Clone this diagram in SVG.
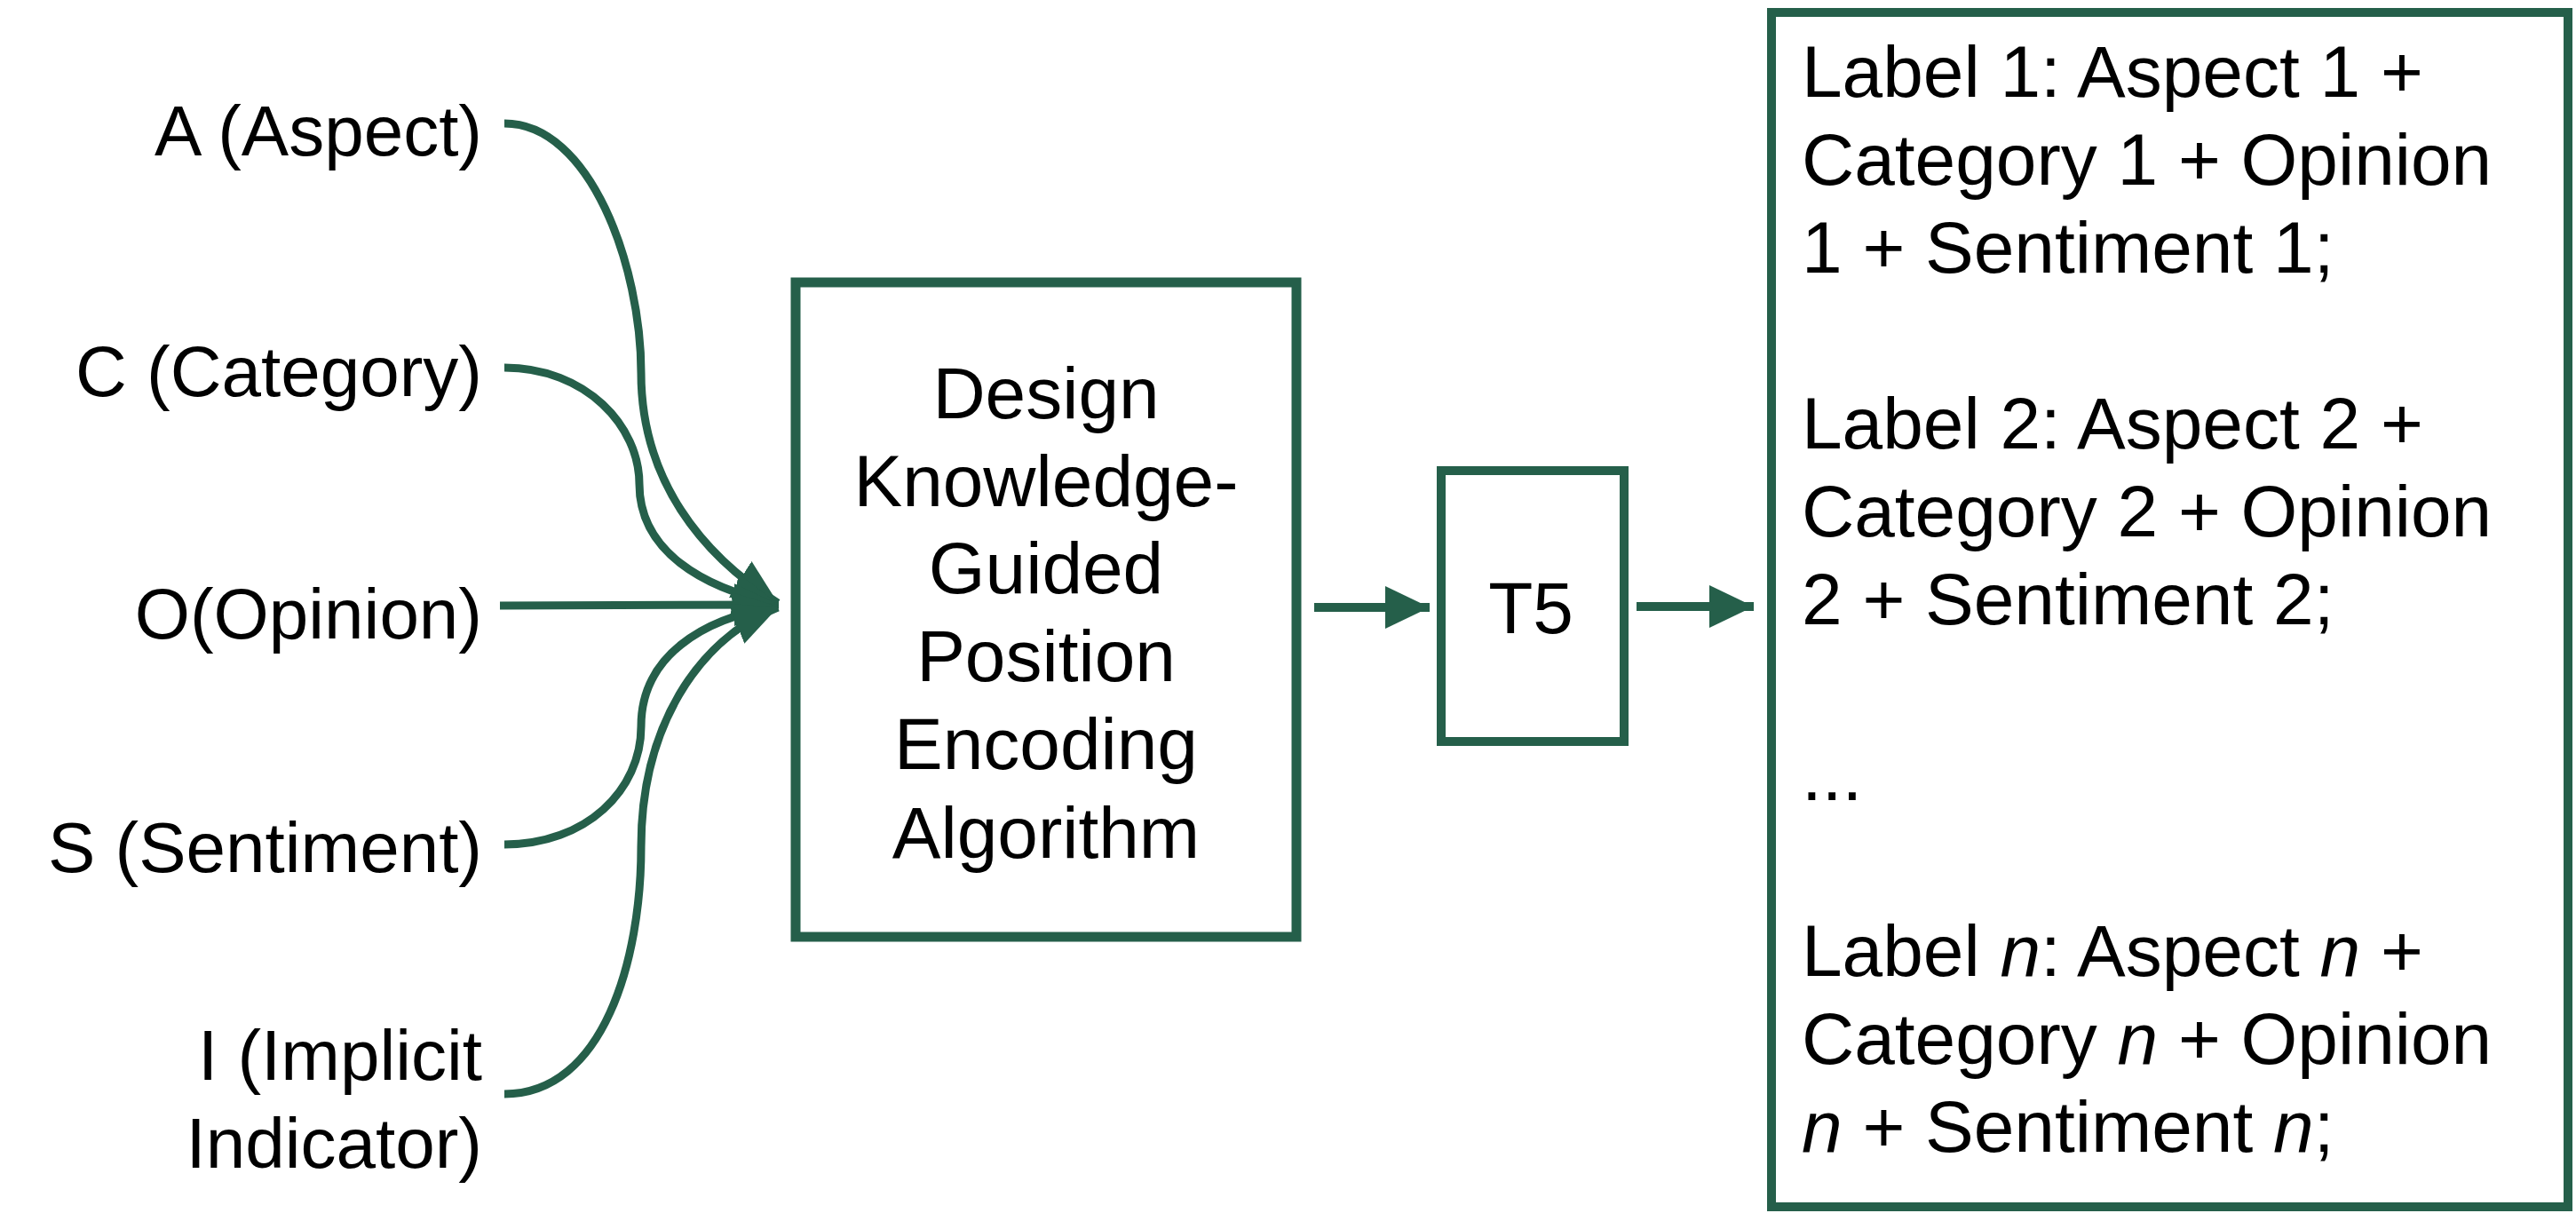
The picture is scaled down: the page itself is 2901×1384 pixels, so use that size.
<svg xmlns="http://www.w3.org/2000/svg" width="2901" height="1384" viewBox="0 0 2901 1384">
<style>
text{font-family:"Liberation Sans",Arial,Helvetica,sans-serif;fill:#000}
.lbl{font-size:80px;text-anchor:end}
.box{fill:none;stroke:#255f4a}
.ctr{font-size:82px;text-anchor:middle}
.out{font-size:82px}
.con{fill:none;stroke:#255f4a;stroke-width:9}
.ar{fill:none;stroke:#255f4a;stroke-width:10}
</style>
<defs>
<marker id="ah" markerUnits="userSpaceOnUse" markerWidth="50" markerHeight="48" viewBox="0 0 50 48" refX="50" refY="24" orient="auto">
<path d="M0,0 L50,24 L0,48 z" fill="#255f4a"/>
</marker>
</defs>
<rect width="2901" height="1384" fill="#fff"/>
<g id="input-A"><text class="lbl" x="543" y="175">A (Aspect)</text></g>
<g id="input-C"><text class="lbl" x="543" y="446">C (Category)</text></g>
<g id="input-O"><text class="lbl" x="543" y="719">O(Opinion)</text></g>
<g id="input-S"><text class="lbl" x="543" y="982">S (Sentiment)</text></g>
<g id="input-I"><text class="lbl" x="543" y="1216">I (Implicit</text><text class="lbl" x="543" y="1315">Indicator)</text></g>
<g id="encoder">
<rect class="box" x="896" y="318" width="564" height="737" stroke-width="11"/>
<text class="ctr" x="1178" y="471">Design</text>
<text class="ctr" x="1178" y="570">Knowledge-</text>
<text class="ctr" x="1178" y="668">Guided</text>
<text class="ctr" x="1178" y="767">Position</text>
<text class="ctr" x="1178" y="866">Encoding</text>
<text class="ctr" x="1178" y="966">Algorithm</text>
</g>
<g id="t5">
<rect class="box" x="1623" y="530" width="206" height="305" stroke-width="10"/>
<text class="ctr" x="1724" y="713">T5</text>
</g>
<g id="output">
<rect class="box" x="1995" y="14" width="897" height="1345" stroke-width="10"/>
<text class="out" x="2029" y="109">Label 1: Aspect 1 +</text>
<text class="out" x="2029" y="208">Category 1 + Opinion</text>
<text class="out" x="2029" y="307">1 + Sentiment 1;</text>
<text class="out" x="2029" y="505">Label 2: Aspect 2 +</text>
<text class="out" x="2029" y="604">Category 2 + Opinion</text>
<text class="out" x="2029" y="703">2 + Sentiment 2;</text>
<text class="out" x="2029" y="901">...</text>
<text class="out" x="2029" y="1099">Label <tspan font-style="italic">n</tspan>: Aspect <tspan font-style="italic">n</tspan> +</text>
<text class="out" x="2029" y="1198">Category <tspan font-style="italic">n</tspan> + Opinion</text>
<text class="out" x="2029" y="1297"><tspan font-style="italic">n</tspan> + Sentiment <tspan font-style="italic">n</tspan>;</text>
</g>
<g id="connectors">
<path class="con" marker-end="url(#ah)" d="M568,139 C665,139 722,300 722,420 C722,540 790,625 876,679"/>
<path class="con" marker-end="url(#ah)" d="M568,414 C660,414 720,480 720,545 C720,620 790,662 876,680"/>
<path class="con" marker-end="url(#ah)" d="M563,682 L877,681"/>
<path class="con" marker-end="url(#ah)" d="M568,951 C660,951 722,890 722,818 C722,740 790,696 876,683"/>
<path class="con" marker-end="url(#ah)" d="M568,1232 C680,1232 722,1080 722,954 C722,820 785,720 876,684"/>
<path class="ar" marker-end="url(#ah)" d="M1480,684 L1610,684"/>
<path class="ar" marker-end="url(#ah)" d="M1843,683 L1975,683"/>
</g>
</svg>
